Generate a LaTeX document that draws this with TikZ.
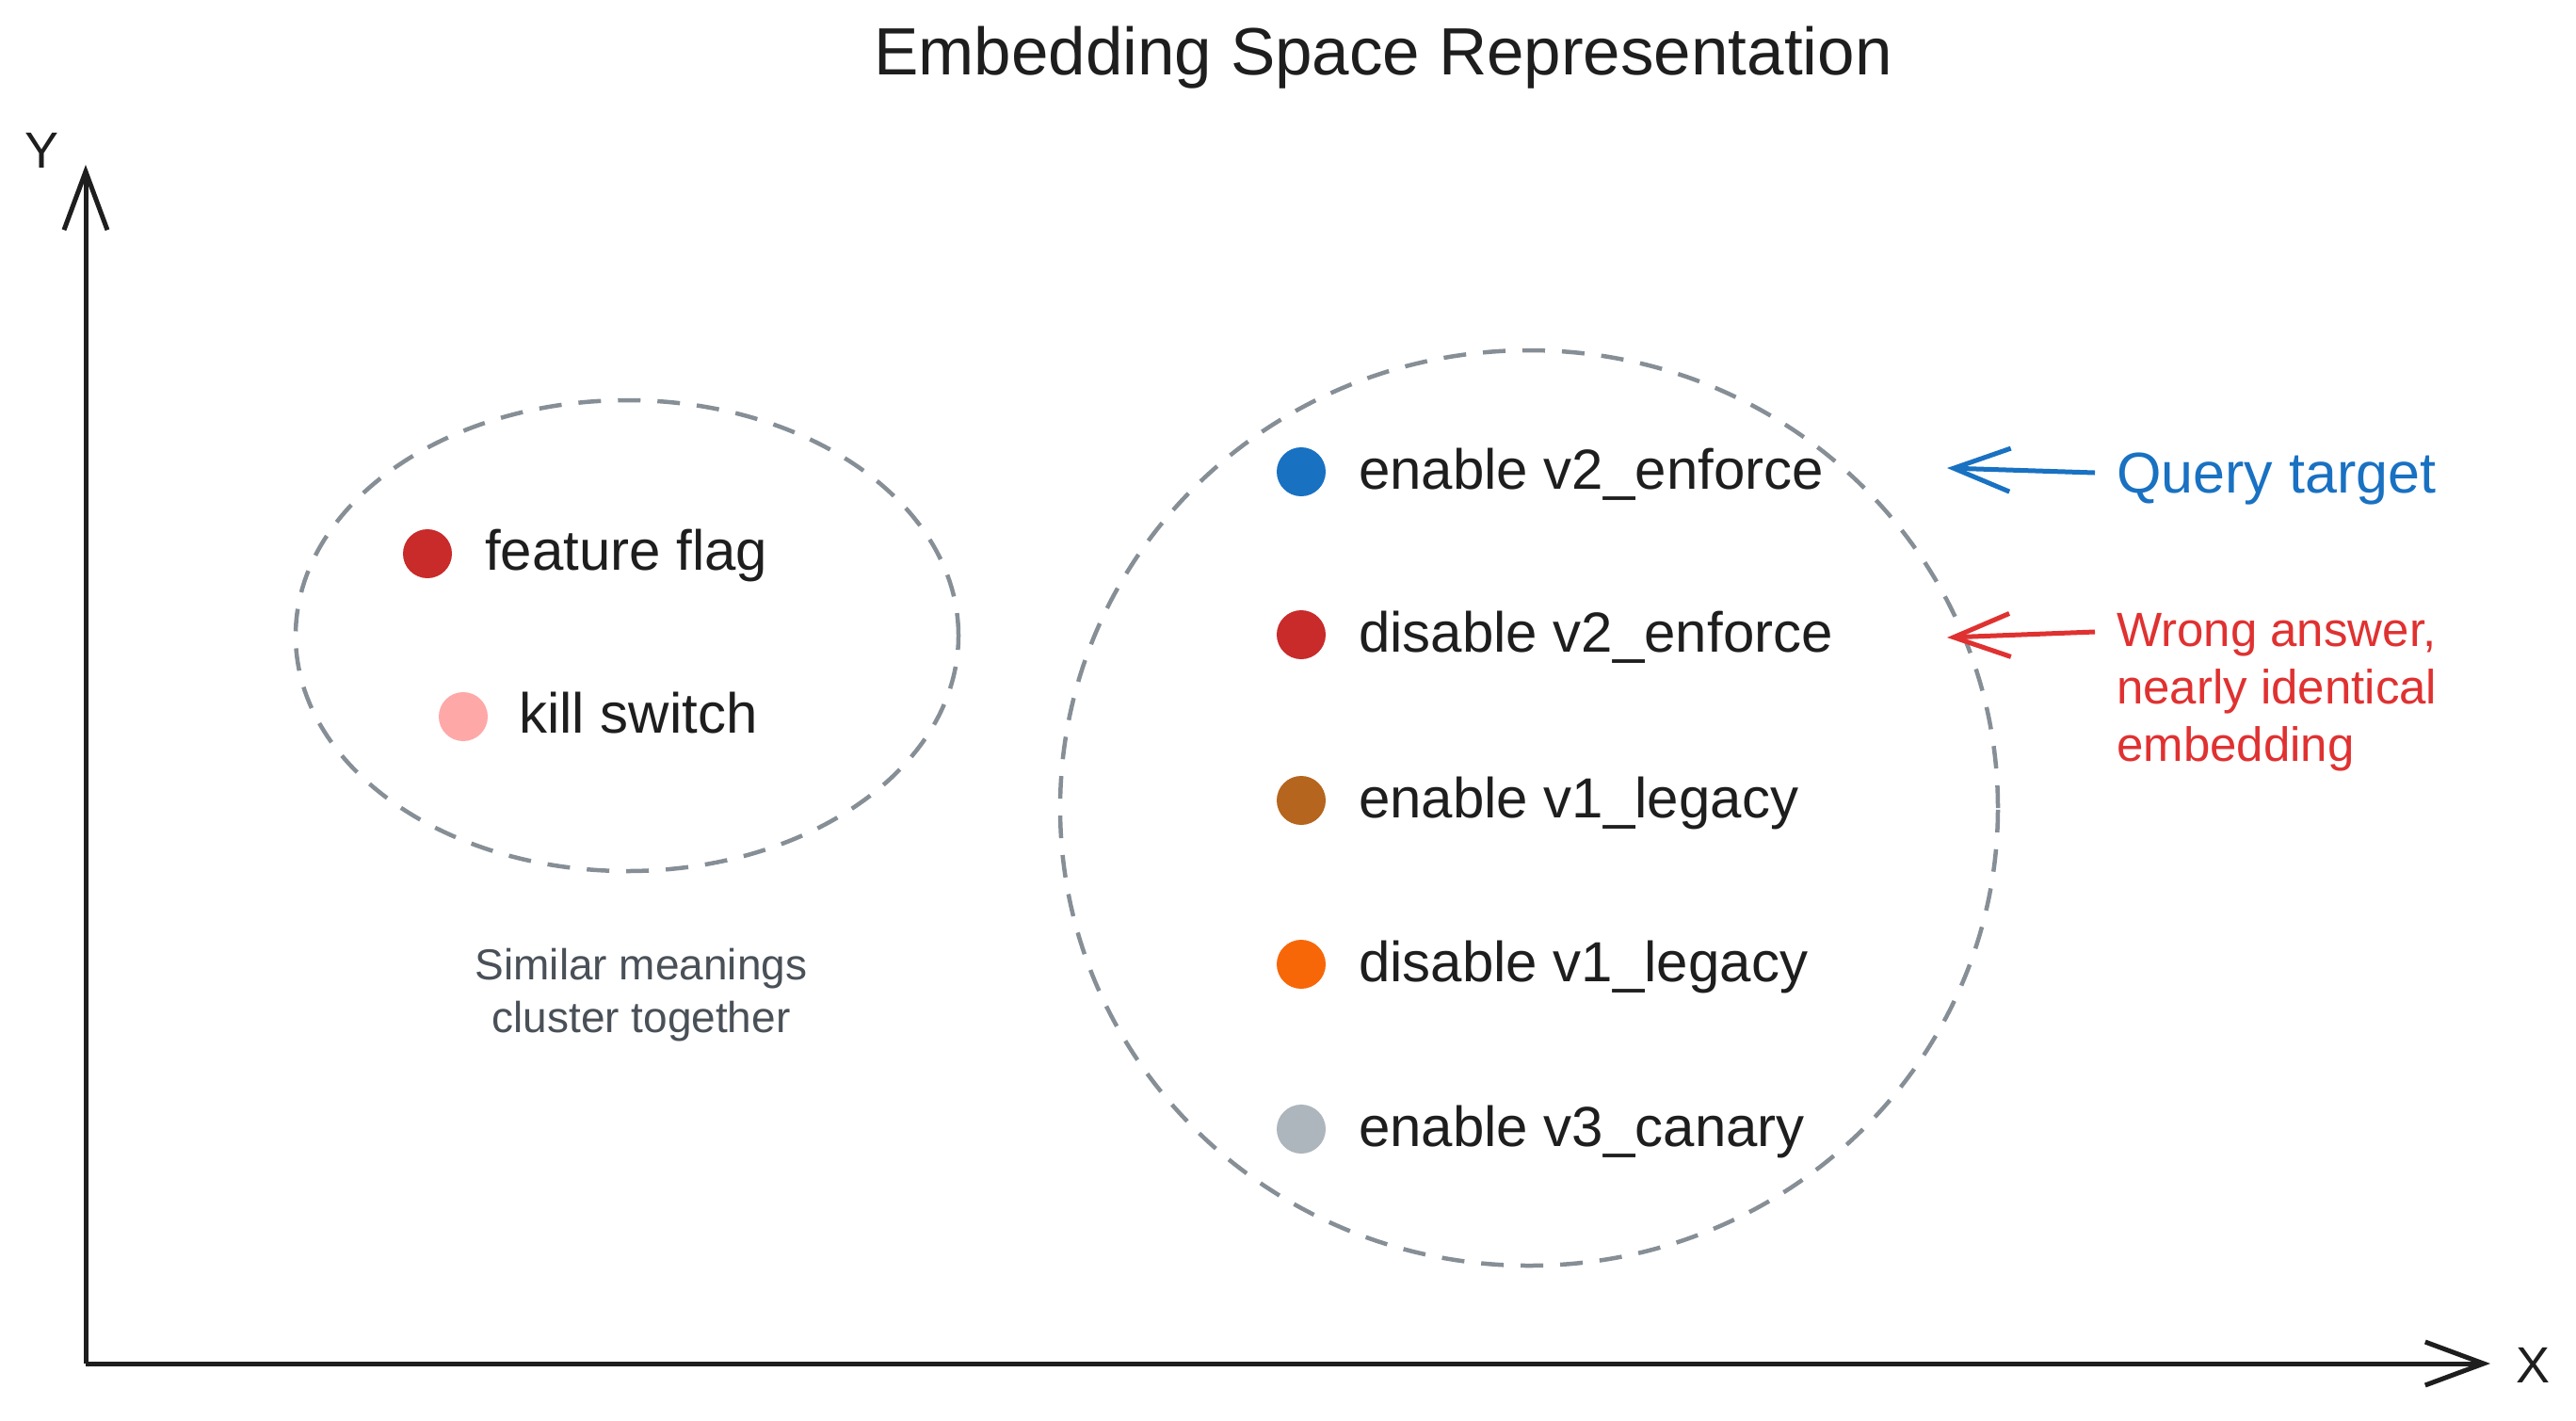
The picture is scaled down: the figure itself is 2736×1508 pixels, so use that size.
\documentclass[tikz,border=0pt]{standalone}
\usepackage{fontspec}
\setmainfont{Liberation Sans}
\usetikzlibrary{arrows.meta}
\definecolor{ink}{HTML}{1E1E1E}
\definecolor{clgray}{HTML}{868E96}
\definecolor{notegray}{HTML}{495057}
\definecolor{dred}{HTML}{C92A2A}
\definecolor{dpink}{HTML}{FFA8A8}
\definecolor{dblue}{HTML}{1971C2}
\definecolor{dbrown}{HTML}{B5651D}
\definecolor{dorange}{HTML}{F76707}
\definecolor{dgray}{HTML}{ADB5BD}
\definecolor{tred}{HTML}{E03131}
\begin{document}
\begin{tikzpicture}[x=1pt,y=-1pt,
  item/.style={font=\fontsize{60}{70}\selectfont, text=ink, anchor=base west, inner sep=0pt},
  dot/.style={circle, minimum size=52pt, inner sep=0pt, draw=none},
  cluster/.style={draw=clgray, line width=4.5pt, dash pattern=on 24pt off 18pt},
  axis/.style={draw=ink, line width=5pt, -{Straight Barb[length=62pt,width=46pt]}},
  pointer/.style={line width=5pt, -{Straight Barb[length=60pt,width=46pt]}},
  axlabel/.style={font=\fontsize{54}{60}\selectfont, text=ink, inner sep=0pt},
  note/.style={font=\fontsize{46}{56}\selectfont, text=notegray, anchor=base, inner sep=0pt},
  wrong/.style={font=\fontsize{51}{60}\selectfont, text=tred, anchor=base west, inner sep=0pt}]
\useasboundingbox (0,0) rectangle (2736,1508);
\fill[white] (0,0) rectangle (2736,1508);

% title
\node[font=\fontsize{71}{80}\selectfont, text=ink, anchor=base, inner sep=0pt] (title) at (1469,79) {Embedding Space Representation};

% axes
\coordinate (origin) at (91,1448);
\coordinate (ytop) at (91,175);
\coordinate (xend) at (2645,1448);
\draw[axis] (origin) -- (ytop);
\draw[axis] (origin) -- (xend);
\node[axlabel] (ylab) at (45,160) {Y};
\node[axlabel] (xlab) at (2690,1450) {X};

% clusters
\draw[cluster] (666,675) ellipse [x radius=352pt, y radius=250pt];
\draw[cluster] (1624,858) ellipse [x radius=498pt, y radius=486pt];

% left cluster
\node[dot, fill=dred] (d1) at (454,588) {};
\node[item] (t1) at (515,605) {feature flag};
\node[dot, fill=dpink] (d2) at (492,761) {};
\node[item] (t2) at (551,778) {kill switch};

\node[note] (n1) at (681,1040) {Similar meanings};
\node[note] (n2) at (681,1096) {cluster together};

% right cluster
\node[dot, fill=dblue] (r1) at (1382,501) {};
\node[item] (s1) at (1443,519) {enable v2\_enforce};
\node[dot, fill=dred] (r2) at (1382,674) {};
\node[item] (s2) at (1443,692) {disable v2\_enforce};
\node[dot, fill=dbrown] (r3) at (1382,850) {};
\node[item] (s3) at (1443,868) {enable v1\_legacy};
\node[dot, fill=dorange] (r4) at (1382,1024) {};
\node[item] (s4) at (1443,1042) {disable v1\_legacy};
\node[dot, fill=dgray] (r5) at (1382,1199) {};
\node[item] (s5) at (1443,1217) {enable v3\_canary};

% annotations
\node[font=\fontsize{61}{70}\selectfont, text=dblue, anchor=base west, inner sep=0pt] (qt) at (2248,523) {Query target};
\coordinate (qtail) at (2225,502);
\coordinate (qtip) at (2068,497);
\draw[pointer, draw=dblue] (qtail) -- (qtip);

\node[wrong] (w1) at (2248,686) {Wrong answer,};
\node[wrong] (w2) at (2248,747) {nearly identical};
\node[wrong] (w3) at (2248,808) {embedding};
\coordinate (wtail) at (2225,671);
\coordinate (wtip) at (2068,677);
\draw[pointer, draw=tred] (wtail) -- (wtip);
\end{tikzpicture}
\end{document}
